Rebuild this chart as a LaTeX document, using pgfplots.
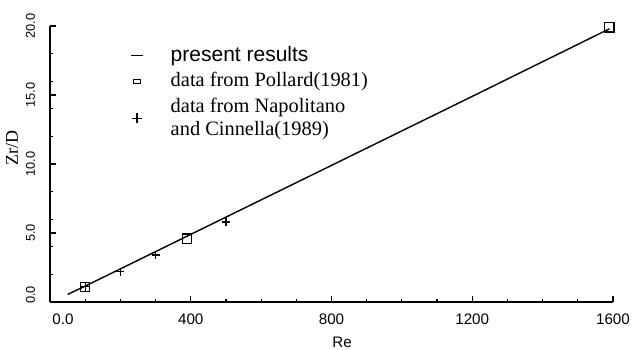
\documentclass[border=0pt]{standalone}
\usepackage{fontspec}
\setmainfont{Liberation Serif}
\newfontfamily\tsans{Liberation Sans}
\usepackage{pgfplots}
\pgfplotsset{compat=1.18}
\pgfplotsset{
  lineleg/.style={legend image code/.code={\draw[##1] (0pt,0pt)--(6pt,0pt);}},
  sqleg/.style={legend image code/.code={\draw[##1, mark size=1.75pt, mark options={yscale=0.6}] plot coordinates {(3pt,0pt)};}},
  plusleg/.style={legend image code/.code={\draw[##1, mark size=2.5pt] plot coordinates {(3pt,0pt)};}},
}
\begin{document}
\begin{tikzpicture}[x=1pt,y=1pt]
\useasboundingbox (-25,-23.5) rectangle (291.5,151);
\begin{axis}[
  at={(0,0)}, anchor=south west,
  scale only axis, width=281.5pt, height=138pt,
  xmin=0, xmax=1600, ymin=0, ymax=20,
  clip=false,
  axis x line*=bottom, axis y line*=left,
  axis line style={-, line width=0.6pt},
  xtick={0,400,800,1200,1600},
  xticklabels={\hspace*{13pt}0.0,400,800,1200,1600},
  minor xtick={100,200,...,1500},
  ytick={0,5,10,15,20},
  yticklabels={\hspace*{7pt}0.0,5.0,10.0,15.0,20.0},
  minor ytick={2,4,...,18},
  tick align=inside, major tick length=3pt, minor tick length=1.3pt,
  tick style={black, line width=0.6pt},
  xticklabel style={font=\tsans\fontsize{7.6}{8}\selectfont},
  xticklabel shift=2.5pt,
  yticklabel style={rotate=90, anchor=south, font=\tsans\fontsize{6.4}{7}\selectfont},
  yticklabel shift=4pt,
  xlabel={Re},
  every axis x label/.style={at={(rel axis cs:0.519,-0.145)}, anchor=center, font=\tsans\fontsize{7.6}{8}\selectfont},
  ylabel={Zr/D},
  every axis y label/.style={at={(rel axis cs:-0.0675,0.558)}, rotate=90, anchor=center, font=\fontsize{9}{10}\selectfont},
  legend style={at={(rel axis cs:0.142,0.942)}, anchor=north west, draw=none, fill=none,
    font=\fontsize{10.2}{11.75}\selectfont, cells={align=left}, inner sep=0pt,
    /tikz/every odd column/.append style={column sep=11.5pt}},
  legend cell align=left,
]
\addplot[black, line width=0.7pt, lineleg]
  coordinates {(50,0.55)(100,1.15)(200,2.4)(300,3.65)(400,4.9)(500,6.15)(800,9.9)(1200,14.9)(1590,19.8)};
\addlegendentry{\tsans\fontsize{10.5}{11.75}\selectfont present results}
\addplot[only marks, mark=square, mark size=2.3pt, line width=0.6pt, black, sqleg]
  coordinates {(100,1.1)(390,4.6)(1590,19.9)};
\addlegendentry{data from Pollard(1981)}
\addplot[only marks, mark=+, mark size=2pt, line width=0.6pt, black, plusleg]
  coordinates {(100,1.1)(200,2.2)(300,3.4)(500,5.8)};
\addlegendentry{data from Napolitano\\and Cinnella(1989)}
\end{axis}
\end{tikzpicture}
\end{document}
